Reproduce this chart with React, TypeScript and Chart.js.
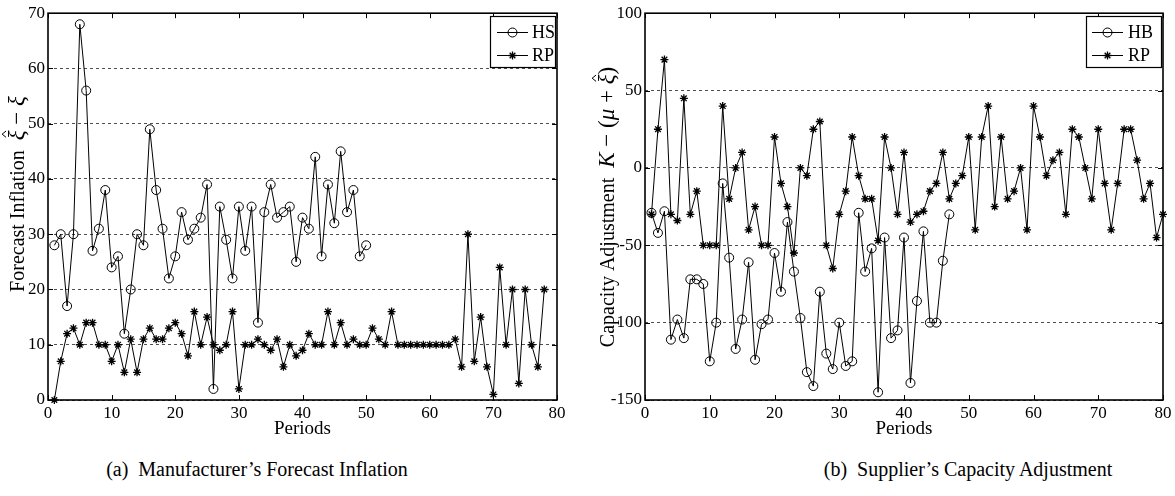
import React, { useEffect, useRef } from 'react';
import { Chart, registerables } from 'chart.js';

Chart.register(...registerables);

const FONT = "'Liberation Serif', 'Times New Roman', serif";

// ---------- Panel (a): Manufacturer's Forecast Inflation ----------
const hsValues = [
  28, 30, 17, 30, 68, 56, 27, 31, 38, 24,
  26, 12, 20, 30, 28, 49, 38, 31, 22, 26,
  34, 29, 31, 33, 39, 2, 35, 29, 22, 35,
  27, 35, 14, 34, 39, 33, 34, 35, 25, 33,
  31, 44, 26, 39, 32, 45, 34, 38, 26, 28,
];
const rpForecastValues = [
  0, 7, 12, 13, 10, 14, 14, 10, 10, 7,
  10, 5, 11, 5, 11, 13, 11, 11, 13, 14,
  12, 8, 16, 10, 15, 10, 9, 10, 16, 2,
  10, 10, 11, 10, 9, 11, 6, 10, 8, 9,
  12, 10, 10, 16, 10, 14, 10, 11, 10, 10,
  13, 11, 10, 16, 10, 10, 10, 10, 10, 10,
  10, 10, 10, 11, 6, 30, 7, 15, 6, 1,
  24, 10, 20, 3, 20, 10, 6, 20,
];
const forecastYTicks = [0, 10, 20, 30, 40, 50, 60, 70];

// ---------- Panel (b): Supplier's Capacity Adjustment ----------
const hbValues = [
  -29, -42, -28, -111, -98, -110, -72, -72, -75, -125,
  -100, -10, -58, -117, -98, -61, -124, -101, -98, -55,
  -80, -35, -67, -97, -132, -141, -80, -120, -130, -100,
  -128, -125, -29, -67, -52, -145, -45, -110, -105, -45,
  -139, -86, -41, -100, -100, -60, -30,
];
const rpCapacityValues = [
  -30, 25, 70, -30, -34, 45, -30, -15, -50, -50,
  -50, 40, -20, 0, 10, -40, -25, -50, -50, 20,
  -10, -25, -55, 0, -5, 25, 30, -50, -65, -30,
  -15, 20, -5, -20, -20, -47, 20, 0, -30, 10,
  -35, -30, -28, -15, -10, 10, -20, -10, -5, 20,
  -40, 20, 40, -25, 20, -20, -15, 0, -40, 40,
  20, -5, 5, 10, -30, 25, 20, 0, -20, 25,
  -10, -40, -10, 25, 25, 5, -20, -10, -45, -30,
];
const capacityYTicks = [-150, -100, -50, 0, 50, 100];

const periodTicks = [0, 10, 20, 30, 40, 50, 60, 70, 80];

type Marker = 'circle' | 'star';
type Part = { t: string; italic?: boolean; size: number; hat?: boolean };

interface PanelSpec {
  width: number;
  height: number;
  yMin: number;
  yMax: number;
  yTicks: number[];
  yAxisWidth: number;
  padTop: number;
  padRight: number;
  series: { label: string; values: number[]; marker: Marker }[];
  legend: { x1: number; y1: number; x2: number; y2: number; rows: number[]; lineX1: number; lineX2: number; textX: number };
  title: { cx: number; cy: number; parts: Part[] };
}

const toPoints = (vals: number[]) => vals.map((y, i) => ({ x: i + 1, y }));

function drawMarker(ctx: CanvasRenderingContext2D, m: Marker, x: number, y: number) {
  ctx.beginPath();
  if (m === 'circle') {
    ctx.arc(x, y, 4.5, 0, Math.PI * 2);
    ctx.lineWidth = 1;
    ctx.stroke();
  } else {
    const r = 4;
    for (let k = 0; k < 4; k++) {
      const a = (k * Math.PI) / 4;
      ctx.moveTo(x - Math.cos(a) * r, y - Math.sin(a) * r);
      ctx.lineTo(x + Math.cos(a) * r, y + Math.sin(a) * r);
    }
    ctx.lineWidth = 1.3;
    ctx.stroke();
  }
}

function drawTitle(ctx: CanvasRenderingContext2D, spec: PanelSpec['title']) {
  ctx.save();
  ctx.translate(spec.cx, spec.cy);
  ctx.rotate(-Math.PI / 2);
  ctx.fillStyle = '#000';
  ctx.strokeStyle = '#000';
  ctx.textBaseline = 'alphabetic';
  ctx.textAlign = 'left';
  const fontOf = (p: Part) => `${p.italic ? 'italic ' : ''}${p.size}px ${FONT}`;
  const widths = spec.parts.map((p) => {
    ctx.font = fontOf(p);
    return ctx.measureText(p.t).width;
  });
  const total = widths.reduce((a, b) => a + b, 0);
  let x = -total / 2;
  spec.parts.forEach((p, i) => {
    ctx.font = fontOf(p);
    ctx.fillText(p.t, x, 0);
    if (p.hat) {
      const w = widths[i];
      ctx.beginPath();
      ctx.lineWidth = 1;
      ctx.moveTo(x + w * 0.3, -p.size * 0.78);
      ctx.lineTo(x + w * 0.62, -p.size * 0.95);
      ctx.lineTo(x + w * 0.94, -p.size * 0.78);
      ctx.stroke();
    }
    x += widths[i];
  });
  ctx.restore();
}

function decorPlugin(p: PanelSpec) {
  return {
    id: 'decor',
    afterDraw(chart: any) {
      const ctx: CanvasRenderingContext2D = chart.ctx;
      const a = chart.chartArea;
      const xs = chart.scales.x;
      const ys = chart.scales.y;
      ctx.save();
      ctx.setLineDash([]);
      ctx.strokeStyle = '#000';
      ctx.lineWidth = 1;
      ctx.beginPath();
      for (const v of periodTicks) {
        const px = Math.round(xs.getPixelForValue(v)) + 0.5;
        ctx.moveTo(px, a.bottom);
        ctx.lineTo(px, a.bottom - 5);
        ctx.moveTo(px, a.top);
        ctx.lineTo(px, a.top + 5);
      }
      for (const v of p.yTicks) {
        const py = Math.round(ys.getPixelForValue(v)) + 0.5;
        ctx.moveTo(a.left, py);
        ctx.lineTo(a.left + 5, py);
        ctx.moveTo(a.right, py);
        ctx.lineTo(a.right - 5, py);
      }
      ctx.stroke();
      ctx.lineWidth = 1.6;
      ctx.strokeRect(a.left, a.top, a.right - a.left, a.bottom - a.top);

      // legend
      const L = p.legend;
      ctx.fillStyle = '#fff';
      ctx.fillRect(L.x1, L.y1, L.x2 - L.x1, L.y2 - L.y1);
      ctx.lineWidth = 1.2;
      ctx.strokeRect(L.x1 + 0.5, L.y1 + 0.5, L.x2 - L.x1, L.y2 - L.y1);
      p.series.forEach((s, i) => {
        const y = L.rows[i];
        ctx.beginPath();
        ctx.lineWidth = 1;
        ctx.moveTo(L.lineX1, y + 0.5);
        ctx.lineTo(L.lineX2, y + 0.5);
        ctx.stroke();
        drawMarker(ctx, s.marker, (L.lineX1 + L.lineX2) / 2, y + 0.5);
        ctx.fillStyle = '#000';
        ctx.font = `18px ${FONT}`;
        ctx.textBaseline = 'middle';
        ctx.textAlign = 'left';
        ctx.fillText(s.label, L.textX, y + 1);
      });

      drawTitle(ctx, p.title);
      ctx.restore();
    },
  };
}

function buildConfig(p: PanelSpec): any {
  const tickFont = { family: FONT, size: 17 };
  return {
    type: 'line',
    data: {
      datasets: p.series.map((s) => ({
        label: s.label,
        data: toPoints(s.values),
        borderColor: '#000',
        borderWidth: 1,
        pointStyle: s.marker === 'circle' ? 'circle' : 'star',
        pointRadius: s.marker === 'circle' ? 4.5 : 4,
        pointBorderColor: '#000',
        pointBackgroundColor: s.marker === 'circle' ? 'rgba(0,0,0,0)' : '#000',
        pointBorderWidth: s.marker === 'circle' ? 1 : 1.3,
        fill: false,
        tension: 0,
        clip: false,
      })),
    },
    options: {
      responsive: false,
      animation: false,
      devicePixelRatio: 1,
      layout: { padding: { top: p.padTop, right: p.padRight, left: 0, bottom: 0 } },
      plugins: { legend: { display: false }, tooltip: { enabled: false } },
      scales: {
        x: {
          type: 'linear',
          min: 0,
          max: 80,
          afterBuildTicks: (s: any) => {
            s.ticks = periodTicks.map((v) => ({ value: v }));
          },
          ticks: { font: tickFont, color: '#000', padding: 3, maxRotation: 0, autoSkip: false },
          grid: { display: false, drawTicks: false },
          border: { display: false },
          title: {
            display: true,
            text: 'Periods',
            color: '#000',
            font: { family: FONT, size: 19 },
            padding: { top: -2, bottom: 0 },
          },
          afterFit: (s: any) => {
            s.height = p.height - 400;
          },
        },
        y: {
          type: 'linear',
          min: p.yMin,
          max: p.yMax,
          afterBuildTicks: (s: any) => {
            s.ticks = p.yTicks.map((v) => ({ value: v }));
          },
          ticks: { font: tickFont, color: '#000', padding: 3, autoSkip: false },
          grid: { color: '#222', lineWidth: 0.8, drawTicks: false },
          border: { display: false, dash: [3, 3] },
          afterFit: (s: any) => {
            s.width = p.yAxisWidth;
          },
        },
      },
    },
    plugins: [decorPlugin(p)],
  };
}

const panelA: PanelSpec = {
  width: 590,
  height: 440,
  yMin: 0,
  yMax: 70,
  yTicks: forecastYTicks,
  yAxisWidth: 48,
  padTop: 12,
  padRight: 33,
  series: [
    { label: 'HS', values: hsValues, marker: 'circle' },
    { label: 'RP', values: rpForecastValues, marker: 'star' },
  ],
  legend: { x1: 490, y1: 16, x2: 555, y2: 67, rows: [32, 55], lineX1: 497, lineX2: 528, textX: 532 },
  title: {
    cx: 24,
    cy: 194,
    parts: [
      { t: 'Forecast Inflation  ', size: 20 },
      { t: 'ξ', italic: true, size: 23, hat: true },
      { t: ' − ', size: 23 },
      { t: 'ξ', italic: true, size: 23 },
    ],
  },
};

const panelB: PanelSpec = {
  width: 585,
  height: 440,
  yMin: -150,
  yMax: 100,
  yTicks: capacityYTicks,
  yAxisWidth: 55,
  padTop: 13,
  padRight: 12,
  series: [
    { label: 'HB', values: hbValues, marker: 'circle' },
    { label: 'RP', values: rpCapacityValues, marker: 'star' },
  ],
  legend: { x1: 496, y1: 16, x2: 571, y2: 67, rows: [32, 55], lineX1: 502, lineX2: 533, textX: 538 },
  title: {
    cx: 24,
    cy: 207,
    parts: [
      { t: 'Capacity Adjustment  ', size: 20 },
      { t: 'K', italic: true, size: 23 },
      { t: ' − (', size: 23 },
      { t: 'μ', italic: true, size: 23 },
      { t: ' + ', size: 23 },
      { t: 'ξ', italic: true, size: 23, hat: true },
      { t: ')', size: 23 },
    ],
  },
};

function Panel({ spec, left }: { spec: PanelSpec; left: number }) {
  const ref = useRef<HTMLCanvasElement | null>(null);
  useEffect(() => {
    if (!ref.current) return;
    const chart = new Chart(ref.current, buildConfig(spec));
    return () => chart.destroy();
  }, [spec]);
  return (
    <canvas
      ref={ref}
      width={spec.width}
      height={spec.height}
      style={{ position: 'absolute', left, top: 0, width: spec.width, height: spec.height }}
    />
  );
}

export default function App() {
  const caption: React.CSSProperties = {
    position: 'absolute',
    top: 456,
    fontFamily: FONT,
    fontSize: 20,
    lineHeight: '26px',
    color: '#000',
    whiteSpace: 'nowrap',
    textAlign: 'center',
    width: 500,
  };
  return (
    <div style={{ position: 'absolute', left: 0, top: 0, width: 1175, height: 496, background: '#fff', overflow: 'hidden' }}>
      <Panel spec={panelA} left={0} />
      <Panel spec={panelB} left={590} />
      <div style={{ ...caption, left: 7 }}>(a)&nbsp;&nbsp;Manufacturer’s Forecast Inflation</div>
      <div style={{ ...caption, left: 718 }}>(b)&nbsp;&nbsp;Supplier’s Capacity Adjustment</div>
    </div>
  );
}
